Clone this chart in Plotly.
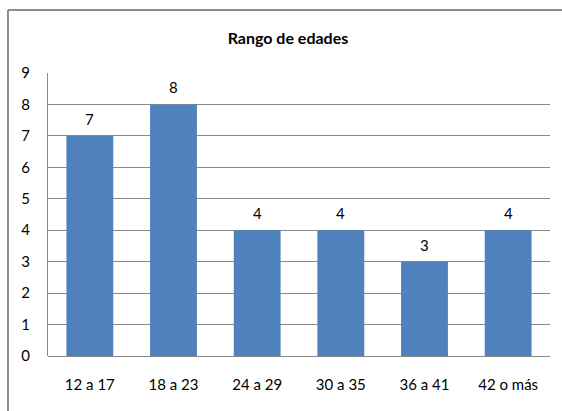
import plotly.graph_objects as go

categories = ["12 a 17", "18 a 23", "24 a 29", "30 a 35", "36 a 41", "42 o más"]
counts = [7, 8, 4, 4, 3, 4]
y_ticks = list(range(0, 10))

FONT = "Lato, Open Sans, sans-serif"

fig = go.Figure(
    go.Bar(
        x=categories,
        y=counts,
        marker=dict(color="#4F81BD", line=dict(width=0)),
        cliponaxis=False,
    )
)

# value labels above each bar
for cat, val in zip(categories, counts):
    fig.add_annotation(
        x=cat, y=val, text=str(val), showarrow=False,
        yanchor="middle", yshift=17,
        font=dict(size=15, family=FONT, color="#000000"),
    )

# chart frame (top and left edges)
frame = dict(color="#8c8c8c", width=2)
fig.add_shape(type="line", xref="paper", yref="paper",
              x0=-0.0797, x1=1.03, y0=1.2226, y1=1.2226, line=frame)
fig.add_shape(type="line", xref="paper", yref="paper",
              x0=-0.0797, x1=-0.0797, y0=1.2226, y1=-0.2, line=frame)

fig.update_layout(
    width=562,
    height=411,
    margin=dict(l=48, r=12, t=73, b=55),
    paper_bgcolor="white",
    plot_bgcolor="white",
    bargap=0.44,
    showlegend=False,
    font=dict(family=FONT, size=15, color="#000000"),
    title=dict(
        text="<b>Rango de edades</b>",
        x=0.478,
        xref="paper",
        y=0.907,
        yref="container",
        xanchor="center",
        yanchor="middle",
        font=dict(size=16, family=FONT, color="#000000"),
    ),
    xaxis=dict(
        showgrid=False,
        showline=False,
        ticks="",
        ticklabelstandoff=18,
        tickfont=dict(size=15, family=FONT),
    ),
    yaxis=dict(
        range=[0, 9],
        tickvals=y_ticks,
        showgrid=True,
        gridcolor="#8a8a8a",
        gridwidth=1,
        showline=True,
        linecolor="#8a8a8a",
        linewidth=1,
        zeroline=True,
        zerolinecolor="#8a8a8a",
        zerolinewidth=1,
        ticks="",
        ticklabelstandoff=14,
        tickfont=dict(size=15, family=FONT),
    ),
)

fig.write_html("out.html")
